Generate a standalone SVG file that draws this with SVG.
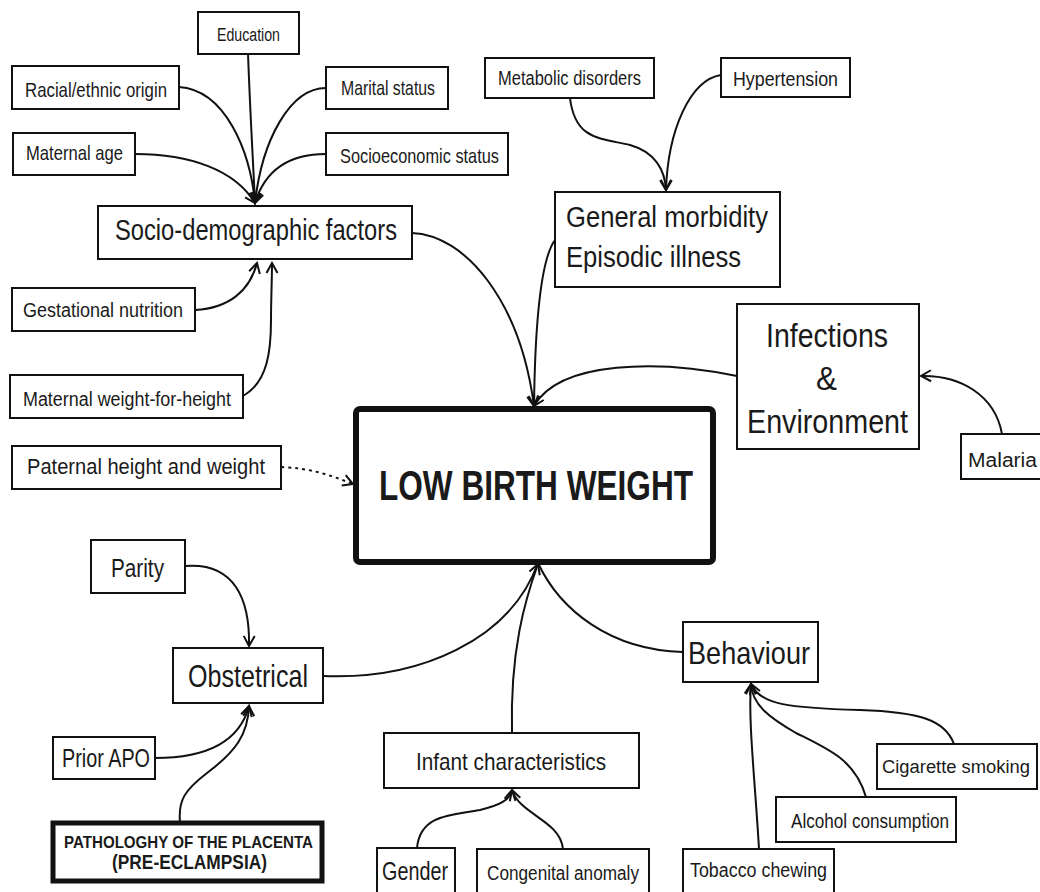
<svg xmlns="http://www.w3.org/2000/svg" width="1040" height="892" viewBox="0 0 1040 892">
<style>
.box{fill:#fff;stroke:#111;stroke-width:2}
.t{font-family:"Liberation Sans",Arial,sans-serif;fill:#1a1a1a}
.b{font-weight:bold}
.c{fill:none;stroke:#111;stroke-width:2}
.d{stroke-dasharray:3 4}
</style>
<defs>
<marker id="ah" viewBox="-12 -7 14 14" refX="0" refY="0" markerWidth="14" markerHeight="14" markerUnits="userSpaceOnUse" orient="auto">
<path d="M-10,-5.5 L0,0 L-10,5.5" fill="none" stroke="#111" stroke-width="2"/>
</marker>
</defs>
<rect width="1040" height="892" fill="#fff"/>
<g id="connectors">
<path class="c" marker-end="url(#ah)" d="M179,87 C225,90 250,150 255,203"/>
<path class="c" marker-end="url(#ah)" d="M248,53 C250,110 253,160 255,203"/>
<path class="c" marker-end="url(#ah)" d="M326,88 C290,88 262,140 255,203"/>
<path class="c" marker-end="url(#ah)" d="M135,154 C190,154 235,170 255,203"/>
<path class="c" marker-end="url(#ah)" d="M326,154 C290,154 265,170 255,203"/>
<path class="c" marker-end="url(#ah)" d="M195,310 C230,308 250,290 257,263"/>
<path class="c" marker-end="url(#ah)" d="M243,396 C268,382 271,350 271,320 C271,300 272,280 272,263"/>
<path class="c" marker-end="url(#ah)" d="M412,233 C465,235 520,300 534,406"/>
<path class="c" marker-end="url(#ah)" d="M555,240 C540,260 535,330 534,406"/>
<path class="c" marker-end="url(#ah)" d="M737,376 C660,360 560,360 534,406"/>
<path class="c" marker-end="url(#ah)" d="M1002,434 C995,395 960,375 921,376"/>
<path class="c" marker-end="url(#ah)" d="M570,98 C575,140 600,138 630,145 C655,152 665,170 666,190"/>
<path class="c" marker-end="url(#ah)" d="M721,75 C690,80 668,130 666,190"/>
<path class="c d" marker-end="url(#ah)" d="M281,467 C310,468 330,475 353,484"/>
<path class="c" marker-end="url(#ah)" d="M185,566 C235,562 250,600 249,646"/>
<path class="c" d="M323,676 C420,680 510,640 538,563"/>
<path class="c" marker-end="url(#ah)" d="M155,758 C210,758 240,740 249,706"/>
<path class="c" marker-end="url(#ah)" d="M180,822 C178,800 185,790 207,773 C235,752 248,735 249,706"/>
<path class="c" marker-end="url(#ah)" d="M512,733 C510,650 525,600 538,564"/>
<path class="c" d="M683,652 C610,650 560,610 538,563"/>
<path class="c" marker-end="url(#ah)" d="M417,848 C420,815 450,815 480,810 C500,805 510,800 512,790"/>
<path class="c" marker-end="url(#ah)" d="M563,849 C560,820 520,815 512,790"/>
<path class="c" marker-end="url(#ah)" d="M759,849 C755,780 748,720 751,684"/>
<path class="c" marker-end="url(#ah)" d="M866,797 C855,760 830,750 796,733 C770,718 752,705 751,684"/>
<path class="c" marker-end="url(#ah)" d="M954,744 C945,720 920,712 860,710 C790,708 760,705 751,684"/>
</g>
<g id="education"><rect class="box" x="198" y="12" width="101" height="42"/><text class="t" x="217" y="41" font-size="18" textLength="63" lengthAdjust="spacingAndGlyphs">Education</text></g>
<g id="racial"><rect class="box" x="12" y="66" width="167" height="43"/><text class="t" x="25" y="97" font-size="21" textLength="142" lengthAdjust="spacingAndGlyphs">Racial/ethnic origin</text></g>
<g id="marital"><rect class="box" x="326" y="67" width="122" height="42"/><text class="t" x="341" y="95" font-size="21" textLength="94" lengthAdjust="spacingAndGlyphs">Marital status</text></g>
<g id="maternal-age"><rect class="box" x="13" y="133" width="122" height="42"/><text class="t" x="26" y="160" font-size="21" textLength="97" lengthAdjust="spacingAndGlyphs">Maternal age</text></g>
<g id="socioeconomic"><rect class="box" x="326" y="133" width="182" height="42"/><text class="t" x="340" y="163" font-size="21" textLength="159" lengthAdjust="spacingAndGlyphs">Socioeconomic status</text></g>
<g id="socio-demographic"><rect class="box" x="98" y="206" width="314" height="53"/><text class="t" x="115" y="240" font-size="30" textLength="282" lengthAdjust="spacingAndGlyphs">Socio-demographic factors</text></g>
<g id="metabolic"><rect class="box" x="485" y="58" width="169" height="40"/><text class="t" x="498" y="85" font-size="20" textLength="143" lengthAdjust="spacingAndGlyphs">Metabolic disorders</text></g>
<g id="hypertension"><rect class="box" x="721" y="58" width="129" height="39"/><text class="t" x="733" y="86" font-size="21" textLength="105" lengthAdjust="spacingAndGlyphs">Hypertension</text></g>
<g id="general-morbidity"><rect class="box" x="555" y="192" width="225" height="95"/><text class="t" x="566" y="227" font-size="30" textLength="202" lengthAdjust="spacingAndGlyphs">General morbidity</text><text class="t" x="566" y="267" font-size="30" textLength="175" lengthAdjust="spacingAndGlyphs">Episodic illness</text></g>
<g id="infections"><rect class="box" x="737" y="304" width="182" height="145"/><text class="t" x="766" y="347" font-size="34" textLength="122" lengthAdjust="spacingAndGlyphs">Infections</text><text class="t" x="816" y="390" font-size="34" textLength="21" lengthAdjust="spacingAndGlyphs">&amp;</text><text class="t" x="747" y="433" font-size="34" textLength="161" lengthAdjust="spacingAndGlyphs">Environment</text></g>
<g id="malaria"><rect class="box" x="961" y="434" width="90" height="45"/><text class="t" x="968" y="467" font-size="20" textLength="69" lengthAdjust="spacingAndGlyphs">Malaria</text></g>
<g id="gestational"><rect class="box" x="12" y="288" width="183" height="43"/><text class="t" x="23" y="317" font-size="20" textLength="160" lengthAdjust="spacingAndGlyphs">Gestational nutrition</text></g>
<g id="weight-for-height"><rect class="box" x="10" y="375" width="233" height="43"/><text class="t" x="23" y="406" font-size="20" textLength="208" lengthAdjust="spacingAndGlyphs">Maternal weight-for-height</text></g>
<g id="paternal"><rect class="box" x="12" y="446" width="269" height="43"/><text class="t" x="27" y="474" font-size="22" textLength="238" lengthAdjust="spacingAndGlyphs">Paternal height and weight</text></g>
<g id="lbw"><rect x="356" y="409" width="357" height="153" rx="4" fill="#fff" stroke="#111" stroke-width="6"/><text class="t b" x="379" y="500" font-size="42" textLength="314" lengthAdjust="spacingAndGlyphs">LOW BIRTH WEIGHT</text></g>
<g id="parity"><rect class="box" x="91" y="540" width="94" height="53"/><text class="t" x="111" y="577" font-size="26" textLength="53" lengthAdjust="spacingAndGlyphs">Parity</text></g>
<g id="obstetrical"><rect class="box" x="173" y="648" width="150" height="55"/><text class="t" x="188" y="687" font-size="32" textLength="120" lengthAdjust="spacingAndGlyphs">Obstetrical</text></g>
<g id="prior-apo"><rect class="box" x="53" y="737" width="102" height="42"/><text class="t" x="62" y="767" font-size="25" textLength="88" lengthAdjust="spacingAndGlyphs">Prior APO</text></g>
<g id="pathology"><rect x="53" y="823" width="269" height="58" fill="#fff" stroke="#111" stroke-width="5"/><text class="t b" x="64" y="848" font-size="17" textLength="249" lengthAdjust="spacingAndGlyphs">PATHOLOGHY OF THE PLACENTA</text><text class="t b" x="112" y="869" font-size="20" textLength="155" lengthAdjust="spacingAndGlyphs">(PRE-ECLAMPSIA)</text></g>
<g id="behaviour"><rect class="box" x="683" y="622" width="135" height="60"/><text class="t" x="688" y="664" font-size="32" textLength="122" lengthAdjust="spacingAndGlyphs">Behaviour</text></g>
<g id="infant"><rect class="box" x="384" y="733" width="255" height="55" stroke-width="3"/><text class="t" x="416" y="770" font-size="24" textLength="190" lengthAdjust="spacingAndGlyphs">Infant characteristics</text></g>
<g id="gender"><rect class="box" x="377" y="848" width="78" height="50"/><text class="t" x="382" y="880" font-size="25" textLength="66" lengthAdjust="spacingAndGlyphs">Gender</text></g>
<g id="congenital"><rect class="box" x="477" y="849" width="172" height="50"/><text class="t" x="487" y="880" font-size="20" textLength="152" lengthAdjust="spacingAndGlyphs">Congenital anomaly</text></g>
<g id="tobacco"><rect class="box" x="683" y="849" width="151" height="50"/><text class="t" x="690" y="877" font-size="20" textLength="137" lengthAdjust="spacingAndGlyphs">Tobacco chewing</text></g>
<g id="alcohol"><rect class="box" x="776" y="797" width="180" height="45"/><text class="t" x="791" y="828" font-size="20" textLength="158" lengthAdjust="spacingAndGlyphs">Alcohol consumption</text></g>
<g id="cigarette"><rect class="box" x="877" y="744" width="160" height="45"/><text class="t" x="882" y="773" font-size="18" textLength="148" lengthAdjust="spacingAndGlyphs">Cigarette smoking</text></g>
</svg>
